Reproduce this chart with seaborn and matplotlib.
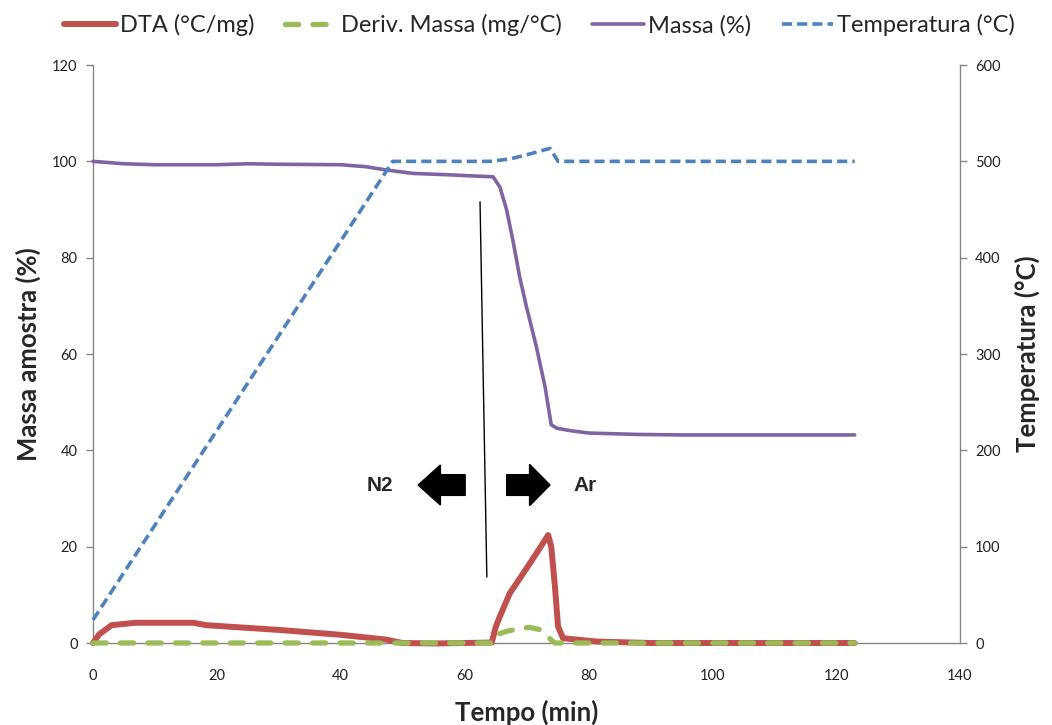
import matplotlib
matplotlib.use("Agg")
import matplotlib.pyplot as plt
import seaborn as sns
import pandas as pd

# ---------------- data ----------------
t_massa = [0, 2, 5, 10, 20, 25, 30, 40, 44, 47.4, 51.7, 57.6, 60.9, 64.6, 65.7, 66.8,
           67.9, 68.9, 70.0, 71.6, 73.0, 74.0, 74.9, 77, 80, 88, 95, 123]
massa = [100, 99.8, 99.5, 99.3, 99.3, 99.5, 99.4, 99.3, 98.9, 98.2, 97.5, 97.2, 97.0, 96.8,
         94.7, 89.9, 83.0, 76.0, 69.8, 61.5, 53.2, 45.3, 44.6, 44.1, 43.6, 43.3, 43.2, 43.2]

t_dta = [0, 1, 3, 6.8, 16.2, 18.3, 30.2, 40, 47.4, 48.8, 50, 55, 60, 64.4, 65.0, 65.7, 67.3,
         69.5, 71.6, 73.5, 74.0, 74.6, 75.1, 75.9, 81.3, 90, 123]
dta = [0, 1.8, 3.7, 4.2, 4.2, 3.7, 2.7, 1.7, 0.7, 0.3, 0.0, -0.1, 0.0, 0.1, 3.2, 5.5, 10.3,
       14.5, 18.6, 22.4, 20.0, 11.7, 3.4, 1.0, 0.3, 0.0, 0.0]

t_deriv = [0, 20, 40, 50, 60, 64.4, 65.1, 67.0, 68.9, 70.5, 72.4, 73.2, 74.0, 74.6, 80, 123]
deriv = [0, 0, 0, 0, 0, 0, 1.7, 2.5, 3.0, 3.25, 2.7, 1.7, 0.6, 0.0, 0.0, 0.0]

t_temp = [0, 48.4, 64.1, 67.3, 70.5, 73.8, 75.1, 80, 123]
temp = [24, 500, 500, 502.4, 507.6, 513.5, 500, 500, 500]

series_names = ["DTA (°C/mg)", "Deriv. Massa (mg/°C)", "Massa (%)", "Temperatura (°C)"]
x_ticks = [0, 20, 40, 60, 80, 100, 120, 140]
y_ticks = [0, 20, 40, 60, 80, 100, 120]
y2_ticks = [0, 100, 200, 300, 400, 500, 600]

# ---------------- style ----------------
sns.set_style("white")
plt.rcParams["font.family"] = ["Lato", "DejaVu Sans"]

RED = "#C0504D"
GREEN = "#9BBB59"
PURPLE = "#8064A2"
BLUE = "#4F81BD"
AXCOL = "#868686"

fig = plt.figure(figsize=(10.52, 7.25), dpi=100)
ax = fig.add_axes([0.0884, 0.1131, 0.9125 - 0.0884, 0.9103 - 0.1131])
ax2 = ax.twinx()

df_dta = pd.DataFrame({"t": t_dta, "v": dta})
df_der = pd.DataFrame({"t": t_deriv, "v": deriv})
df_mas = pd.DataFrame({"t": t_massa, "v": massa})
df_tmp = pd.DataFrame({"t": t_temp, "v": temp})

sns.lineplot(data=df_dta, x="t", y="v", ax=ax, color=RED, lw=4.3, sort=False,
             estimator=None, errorbar=None, label=series_names[0], zorder=3)
ln_dta = ax.lines[-1]
ln_dta.set_solid_capstyle("round")
ln_dta.set_solid_joinstyle("round")
sns.lineplot(data=df_der, x="t", y="v", ax=ax, color=GREEN, lw=3.8, sort=False,
             estimator=None, errorbar=None, label=series_names[1], zorder=3.2)
ln_der = ax.lines[-1]
ln_der.set_dashes([2.5, 2.7])
ln_der.set_dash_capstyle("round")
sns.lineplot(data=df_mas, x="t", y="v", ax=ax, color=PURPLE, lw=2.6, sort=False,
             estimator=None, errorbar=None, label=series_names[2], zorder=3.3)
ln_mas = ax.lines[-1]
sns.lineplot(data=df_tmp, x="t", y="v", ax=ax2, color=BLUE, lw=2.6, sort=False,
             estimator=None, errorbar=None, label=series_names[3], zorder=3)
ln_tmp = ax2.lines[-1]
ln_tmp.set_dashes([2.8, 1.4])

for ln in (ln_dta, ln_der, ln_mas, ln_tmp):
    ln.set_clip_on(False)

for a in (ax, ax2):
    lg = a.get_legend()
    if lg is not None:
        lg.remove()

ax.set_xlim(0, 140)
ax.set_ylim(0, 120)
ax2.set_ylim(0, 600)
ax.set_xticks(x_ticks)
ax.set_yticks(y_ticks)
ax2.set_yticks(y2_ticks)

for a in (ax, ax2):
    for s in a.spines.values():
        s.set_color(AXCOL)
        s.set_linewidth(1.0)
        s.set_zorder(1)
    a.spines["top"].set_visible(False)
    a.tick_params(axis="both", direction="out", length=5, width=1, color=AXCOL,
                  labelsize=10.5, labelcolor="#222222", pad=6)
ax.spines["right"].set_visible(False)
ax2.spines["left"].set_visible(False)
ax2.spines["bottom"].set_visible(False)
ax.tick_params(axis="x", pad=14)

ax.set_xlabel("Tempo (min)", fontsize=18.5, fontweight="bold", labelpad=12)
ax.set_ylabel("Massa amostra (%)", fontsize=18.5, fontweight="bold", labelpad=8)
ax2.set_ylabel("Temperatura (°C)", fontsize=18.5, fontweight="bold", labelpad=10)

# annotations: gas switch line, arrows, labels
ax.plot([62.5, 63.6], [91.6, 13.7], color="black", lw=1.0, zorder=5)
ax.arrow(60.1, 32.8, -7.6 + 3.6, 0, width=4.3, head_width=8.3, head_length=3.6,
         length_includes_head=False, color="black", zorder=6)
ax.arrow(66.8, 32.8, 7.0 - 3.3, 0, width=4.3, head_width=8.6, head_length=3.3,
         length_includes_head=False, color="black", zorder=6)
ax.text(46.3, 32.6, "N2", fontsize=15, fontweight="bold", ha="center", va="center",
        family=["Liberation Sans", "DejaVu Sans"])
ax.text(79.4, 32.6, "Ar", fontsize=15, fontweight="bold", ha="center", va="center",
        family=["Liberation Sans", "DejaVu Sans"])

handles = [ln_dta, ln_der, ln_mas, ln_tmp]
fig.legend(handles, series_names, loc="center", bbox_to_anchor=(0.513, 0.965), ncol=4,
           frameon=False, fontsize=17, handlelength=2.2, handletextpad=0.15,
           columnspacing=1.3)

fig.savefig("out.png", dpi=100)
